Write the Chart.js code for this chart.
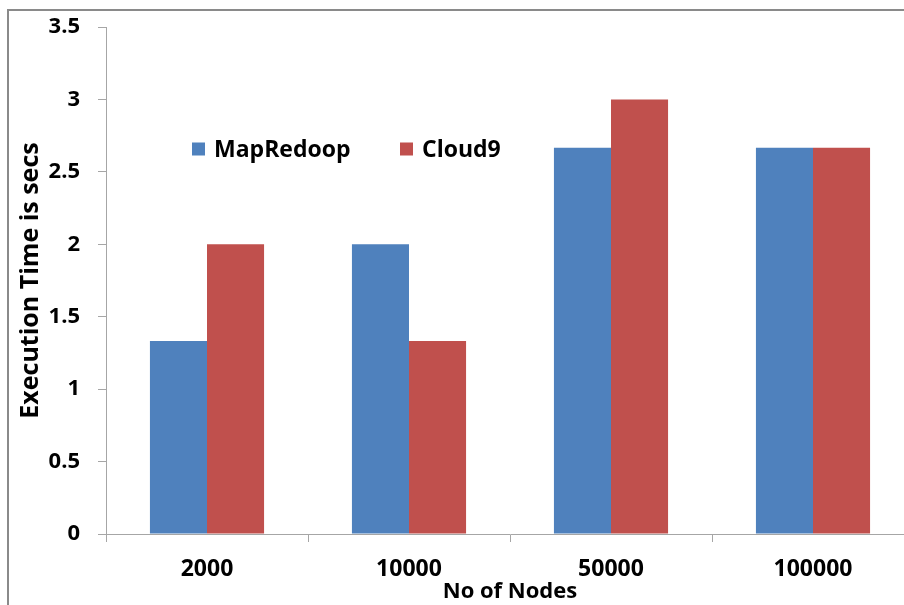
<!DOCTYPE html>
<html>
<head>
<meta charset="utf-8">
<script src="https://cdn.jsdelivr.net/npm/chart.js@4/dist/chart.umd.min.js"></script>
<style>
  html, body { margin: 0; padding: 0; background: #fff; overflow: hidden; }
  #wrap { position: relative; width: 904px; height: 605px; overflow: hidden; }
  #chart { position: absolute; left: 0; top: 0; }
  #frame {
    position: absolute; left: 7px; top: 9px; width: 1000px; height: 1000px;
    border: 2px solid #8a8a8a; pointer-events: none;
  }
</style>
</head>
<body>
<div id="wrap">
  <canvas id="chart" width="930" height="605"></canvas>
  <div id="frame"></div>
</div>
<script>
// Node counts on the x axis
const categories = ['2000', '10000', '50000', '100000'];
// Execution times (seconds) per framework
const mapRedoop = [1.333, 2.0, 2.667, 2.667];
const cloud9 = [2.0, 1.333, 3.0, 2.667];
const seriesNames = ['MapRedoop', 'Cloud9'];
const seriesColors = ['#4f81bd', '#c0504d'];
const yTicks = { min: 0, max: 3.5, step: 0.5 };

const FONT = '"Open Sans", "Liberation Sans", sans-serif';
const AXIS_GRAY = '#a6a6a6';

// Legend drawn inside the plot area as a single row
const innerLegend = {
  id: 'innerLegend',
  afterDraw(chart) {
    const { ctx, chartArea } = chart;
    const x0 = chartArea.left + 86;
    const y0 = chartArea.top + 122;
    const gap = 208;
    ctx.save();
    ctx.font = 'bold 23px ' + FONT;
    ctx.textBaseline = 'middle';
    chart.data.datasets.forEach((ds, i) => {
      const x = x0 + i * gap;
      ctx.fillStyle = ds.backgroundColor;
      ctx.fillRect(x, y0 - 6.5, 13, 13);
      ctx.fillStyle = '#000';
      ctx.fillText(ds.label, x + 22, y0 + 1);
    });
    ctx.restore();
  }
};

new Chart(document.getElementById('chart'), {
  type: 'bar',
  data: {
    labels: categories,
    datasets: [
      { label: seriesNames[0], data: mapRedoop, backgroundColor: seriesColors[0] },
      { label: seriesNames[1], data: cloud9, backgroundColor: seriesColors[1] }
    ]
  },
  options: {
    responsive: false,
    devicePixelRatio: 1,
    animation: false,
    layout: { padding: { top: 27, left: 0, right: 16, bottom: 0 } },
    datasets: { bar: { barPercentage: 1.0, categoryPercentage: 0.565, borderWidth: 0 } },
    plugins: { legend: { display: false }, tooltip: { enabled: false } },
    scales: {
      x: {
        grid: {
          offset: true, drawOnChartArea: false, drawTicks: true,
          tickLength: 8, color: AXIS_GRAY
        },
        border: { display: true, color: AXIS_GRAY, width: 1 },
        ticks: { color: '#000', font: { family: FONT, size: 23, weight: 'bold' }, padding: 14, maxRotation: 0 },
        title: {
          display: true, text: 'No of Nodes', color: '#000',
          font: { family: FONT, size: 22, weight: 'bold' }, padding: { top: -6, bottom: 0 }
        },
        afterFit(s) { s.height = 71; s.paddingLeft = 0; s.paddingRight = 0; }
      },
      y: {
        min: yTicks.min, max: yTicks.max,
        grid: { drawOnChartArea: false, drawTicks: true, tickLength: 8, color: AXIS_GRAY },
        border: { display: true, color: AXIS_GRAY, width: 1 },
        ticks: {
          stepSize: yTicks.step, color: '#000', padding: 18,
          font: { family: FONT, size: 22, weight: 'bold' },
          callback: (v) => String(Number(v.toFixed(1)))
        },
        title: {
          display: true, text: 'Execution Time is secs', color: '#000',
          font: { family: FONT, size: 25, weight: 'bold' }, padding: { top: 16, bottom: 0 }
        },
        afterFit(s) { s.width = 106; s.paddingTop = 0; s.paddingBottom = 0; }
      }
    }
  },
  plugins: [innerLegend]
});
</script>
</body>
</html>
